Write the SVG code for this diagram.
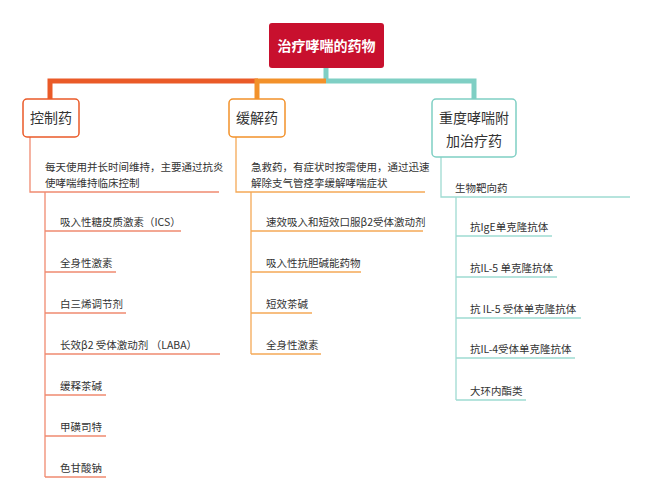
<svg xmlns="http://www.w3.org/2000/svg" width="650" height="500" viewBox="0 0 650 500">
<style>
text{font-family:"Noto Sans CJK SC","Noto Sans",sans-serif;fill:#333}
.s{font-size:10.5px}
.h{font-size:14px}
.r{stroke:#f08a70;fill:none;stroke-width:1.3}
.o{stroke:#f5a957;fill:none;stroke-width:1.3}
.t{stroke:#9fdbd2;fill:none;stroke-width:1.3}
</style>
<rect width="650" height="500" fill="#fff"/>
<g id="connectors" fill="none">
<path d="M326 68V81" stroke="#7fcfc4" stroke-width="5"/>
<path d="M50 100V81H258" stroke="#ea5a28" stroke-width="5"/>
<path d="M257 100V81H326" stroke="#f2912a" stroke-width="5"/>
<path d="M326 81H474V100" stroke="#7fcfc4" stroke-width="5"/>
<path class="r" d="M30 137V192H219M45 192V477"/>
<path class="r" d="M45 231H181M45 272H116M45 313H126M45 354H220M45 395H106M45 436H106M45 477H106"/>
<path class="o" d="M236 137V192H425M251 192V354"/>
<path class="o" d="M251 231H423M251 272H361M251 313H312M251 354H321"/>
<path class="t" d="M441 157V197H630M456 197V400"/>
<path class="t" d="M456 236H552M456 277H557M456 318H581M456 358H575M456 400H526"/>
</g>
<g id="root"><rect x="269" y="23" width="115" height="45" rx="3" fill="#c8102e"/><text x="326.5" y="51" text-anchor="middle" style="fill:#fff;font-size:14px;font-weight:bold">治疗哮喘的药物</text></g>
<g id="n1"><rect x="23" y="99" width="56" height="38" rx="4" fill="#fff" stroke="#ea5a28" stroke-width="1.5"/><text class="h" x="51" y="123" text-anchor="middle">控制药</text></g>
<g id="n2"><rect x="229" y="99" width="56" height="38" rx="4" fill="#fff" stroke="#f2912a" stroke-width="1.5"/><text class="h" x="257" y="123" text-anchor="middle">缓解药</text></g>
<g id="n3"><rect x="432" y="99" width="84" height="58" rx="4" fill="#fff" stroke="#7fcfc4" stroke-width="1.5"/><text class="h" x="474" y="123" text-anchor="middle">重度哮喘附</text><text class="h" x="474" y="146" text-anchor="middle">加治疗药</text></g>
<g id="left-items" class="s">
<text class="s" x="45" y="171">每天使用并长时间维持，主要通过抗炎</text>
<text class="s" x="45" y="187">使哮喘维持临床控制</text>
<text class="s" x="60" y="226">吸入性糖皮质激素（ICS）</text>
<text class="s" x="60" y="267">全身性激素</text>
<text class="s" x="60" y="308">白三烯调节剂</text>
<text class="s" x="60" y="349">长效β2 受体激动剂 （LABA）</text>
<text class="s" x="60" y="390">缓释茶碱</text>
<text class="s" x="60" y="431">甲磺司特</text>
<text class="s" x="60" y="472">色甘酸钠</text>
</g>
<g id="mid-items">
<text class="s" x="251" y="171">急救药，有症状时按需使用，通过迅速</text>
<text class="s" x="251" y="187">解除支气管痉挛缓解哮喘症状</text>
<text class="s" x="266" y="226">速效吸入和短效口服β2受体激动剂</text>
<text class="s" x="266" y="267">吸入性抗胆碱能药物</text>
<text class="s" x="266" y="308">短效茶碱</text>
<text class="s" x="266" y="349">全身性激素</text>
</g>
<g id="right-items">
<text class="s" x="455" y="192">生物靶向药</text>
<text class="s" x="470" y="231">抗IgE单克隆抗体</text>
<text class="s" x="470" y="272">抗IL-5 单克隆抗体</text>
<text class="s" x="470" y="313">抗 IL-5 受体单克隆抗体</text>
<text class="s" x="470" y="353">抗IL-4受体单克隆抗体</text>
<text class="s" x="470" y="395">大环内酯类</text>
</g>
</svg>
